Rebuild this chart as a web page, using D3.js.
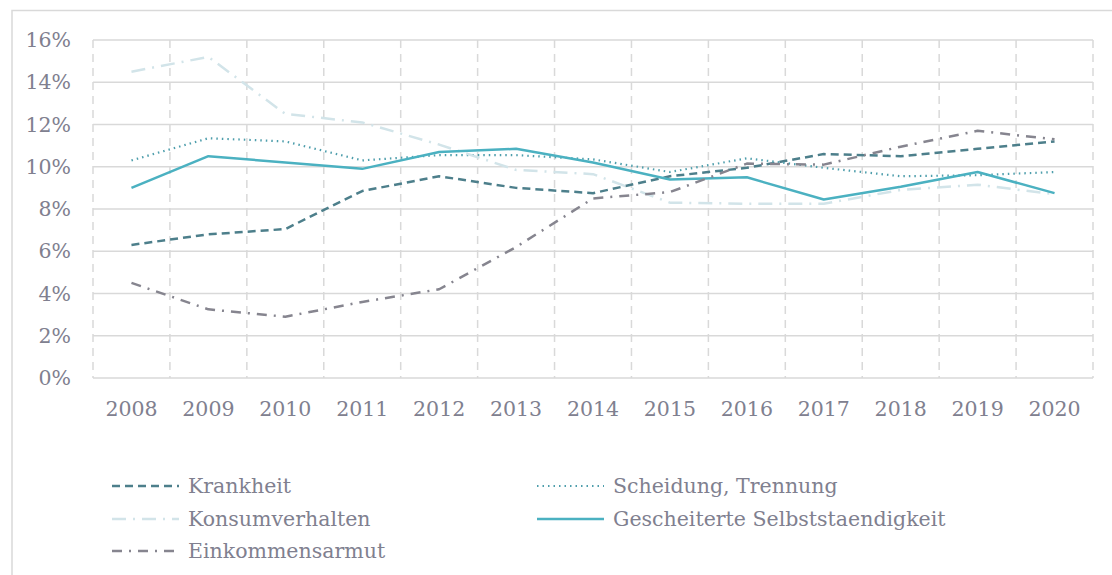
<!DOCTYPE html>
<html>
<head>
<meta charset="utf-8">
<script src="https://cdn.jsdelivr.net/npm/d3@7"></script>
<style>
  body { margin: 0; background: #fff; }
  svg text { font-family: "DejaVu Serif", Georgia, serif; fill: #80808f; }
</style>
</head>
<body>
<svg id="chart" width="1112" height="575"></svg>
<script>
// years on the x axis
const years = ['2008', '2009', '2010', '2011', '2012', '2013', '2014', '2015', '2016', '2017', '2018', '2019', '2020'];
const yTicks = [0, 2, 4, 6, 8, 10, 12, 14, 16];

// shares in percent
const krankheit = [6.3, 6.8, 7.05, 8.85, 9.55, 9.0, 8.75, 9.55, 9.95, 10.6, 10.5, 10.85, 11.2];
const scheidung = [10.3, 11.35, 11.2, 10.3, 10.55, 10.55, 10.35, 9.75, 10.4, 9.95, 9.55, 9.6, 9.75];
const konsum = [14.5, 15.2, 12.5, 12.1, 11.05, 9.85, 9.65, 8.3, 8.25, 8.25, 8.9, 9.15, 8.7];
const selbst = [9.0, 10.5, 10.2, 9.9, 10.7, 10.85, 10.2, 9.4, 9.5, 8.45, 9.05, 9.75, 8.75];
const armut = [4.5, 3.25, 2.9, 3.6, 4.2, 6.2, 8.5, 8.8, 10.15, 10.1, 10.95, 11.7, 11.3];

const series = [
  { name: 'Krankheit', values: krankheit, color: '#4d7f8b', dash: '8,5', width: 2.5 },
  { name: 'Scheidung, Trennung', values: scheidung, color: '#4e9eac', dash: '1.5,4', width: 2.2 },
  { name: 'Konsumverhalten', values: konsum, color: '#d2e4e9', dash: '14,7,2,7', width: 2.5 },
  { name: 'Gescheiterte Selbststaendigkeit', values: selbst, color: '#4bb1c1', dash: null, width: 2.5 },
  { name: 'Einkommensarmut', values: armut, color: '#86858f', dash: '10,7,2,7', width: 2.5 }
];

const svg = d3.select('#chart');
const grid = '#d9d9d9';
const fontSize = '20.5px';

// outer frame of the chart area
svg.append('rect')
  .attr('x', 12).attr('y', 10.5)
  .attr('width', 1120).attr('height', 600)
  .attr('fill', 'none').attr('stroke', grid).attr('stroke-width', 1.5);

const plotLeft = 93, plotRight = 1093, plotTop = 40, plotBottom = 378;

const x = d3.scaleBand().domain(years).range([plotLeft, plotRight]);
const y = d3.scaleLinear().domain([0, 16]).range([plotBottom, plotTop]);

// horizontal grid
svg.append('g').selectAll('line').data(yTicks).join('line')
  .attr('x1', plotLeft).attr('x2', plotRight)
  .attr('y1', d => y(d)).attr('y2', d => y(d))
  .attr('stroke', grid).attr('stroke-width', 1.5);

// vertical dashed grid between categories
const bounds = years.map(d => x(d)).concat([plotRight]);
svg.append('g').selectAll('line').data(bounds).join('line')
  .attr('x1', d => d).attr('x2', d => d)
  .attr('y1', plotTop).attr('y2', plotBottom)
  .attr('stroke', grid).attr('stroke-width', 1.5)
  .attr('stroke-dasharray', '8,6');

// y labels
svg.append('g').selectAll('text').data(yTicks).join('text')
  .attr('x', 71).attr('y', d => y(d))
  .attr('dy', '0.35em')
  .attr('text-anchor', 'end')
  .style('font-size', fontSize)
  .text(d => d + '%');

// x labels
svg.append('g').selectAll('text').data(years).join('text')
  .attr('x', d => x(d) + x.bandwidth() / 2).attr('y', 409)
  .attr('dy', '0.35em')
  .attr('text-anchor', 'middle')
  .style('font-size', fontSize)
  .text(d => d);

const line = d3.line()
  .x((d, i) => x(years[i]) + x.bandwidth() / 2)
  .y(d => y(d));

svg.append('g').selectAll('path').data(series).join('path')
  .attr('d', d => line(d.values))
  .attr('fill', 'none')
  .attr('stroke', d => d.color)
  .attr('stroke-width', d => d.width)
  .attr('stroke-dasharray', d => d.dash)
  .attr('stroke-linejoin', 'round');

// legend, two columns
const legendPos = [
  { x: 112, y: 486 }, { x: 537, y: 486 },
  { x: 112, y: 519 }, { x: 537, y: 519 },
  { x: 112, y: 551 }
];
const legend = svg.append('g').selectAll('g').data(series).join('g')
  .attr('transform', (d, i) => `translate(${legendPos[i].x},${legendPos[i].y})`);
legend.append('line')
  .attr('x1', 0).attr('x2', 67)
  .attr('stroke', d => d.color)
  .attr('stroke-width', d => d.width)
  .attr('stroke-dasharray', d => d.dash);
legend.append('text')
  .attr('x', 76).attr('dy', '0.35em')
  .style('font-size', fontSize)
  .text(d => d.name);
</script>
</body>
</html>
